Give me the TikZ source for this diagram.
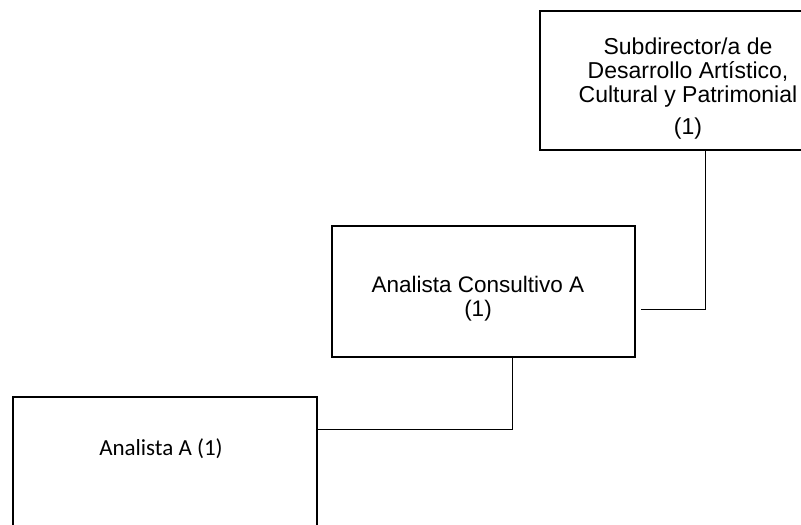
\documentclass[tikz,border=0pt]{standalone}
\usepackage{fontspec}
\setmainfont{Liberation Sans}
\newfontfamily\calibrifont{Carlito}
\begin{document}
\begin{tikzpicture}
[x=1pt,y=-1pt,
  boxdecorate/.style={shape=rectangle,draw,line width=1.6pt,inner sep=0pt},%
  textdecorate/.style={inner sep=0pt,align=center},%
  linedecorate/.style={-,line width=1pt}]
\useasboundingbox (0,0) rectangle (801,525);
\clip (0,0) rectangle (801,525);
%% boxes
\foreach \nodename/\x/\y/\w/\h in {sub/686/80.5/292/139,
  cons/483.5/291.5/303/131, ana/165/462.5/304/131} {
  \node (\nodename) at (\x,\y) [boxdecorate,minimum width=\w,minimum height=\h] {};
}
%% texts
\node (subtext) at (688,89) [textdecorate,font=\fontsize{23}{24}\selectfont]
  {Subdirector/a de\\Desarrollo Artístico,\\Cultural y Patrimonial\\[8pt](1)};
\node (constext) at (478,298.5) [textdecorate,font=\fontsize{22.5}{24}\selectfont]
  {Analista Consultivo A\\(1)};
\node (anatext) at (161,455) [textdecorate,anchor=base,font=\calibrifont\fontsize{23}{24}\selectfont]
  {Analista A (1)};
%% lines
\coordinate (knee1) at (705,309);
\coordinate (knee2) at (512,429);
\draw[linedecorate] (knee1 |- sub.south) -- (knee1) -- ([xshift=5pt]knee1 -| cons.east);
\draw[linedecorate] (knee2 |- cons.south) -- (knee2) -- (knee2 -| ana.east);
\end{tikzpicture}
\end{document}
